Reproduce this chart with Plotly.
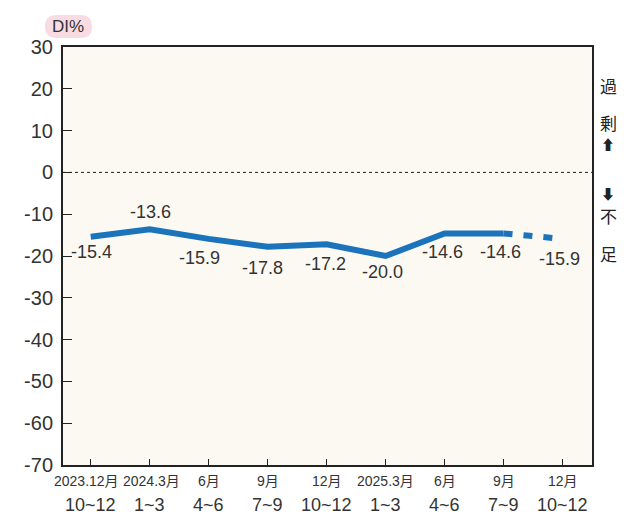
import plotly.graph_objects as go

periods_top = ["2023.12月", "2024.3月", "6月", "9月", "12月", "2025.3月", "6月", "9月", "12月"]
periods_bottom = ["10~12", "1~3", "4~6", "7~9", "10~12", "1~3", "4~6", "7~9", "10~12"]
di_values = [-15.4, -13.6, -15.9, -17.8, -17.2, -20.0, -14.6, -14.6, -15.9]
label_text = ["-15.4", "-13.6", "-15.9", "-17.8", "-17.2", "-20.0", "-14.6", "-14.6", "-15.9"]
y_ticks = [30, 20, 10, 0, -10, -20, -30, -40, -50, -60, -70]
y_ticktext = ["30", "20", "10", "0", "-10", "-20", "-30", "-40", "-50", "-60", "-70"]

# label placement style (pixel offsets)
label_dx = [1, 1, -9, -5, -1, -3, -2, -3, -3]
label_dy = [-15, 17, -19, -21, -20, -16, -19, -19, -20]
top_dx = [-4, 2, 0, 0, 0, 0, 0, 0, 0]

x = list(range(len(di_values)))
blue = "#1a73bb"
txt = "#333333"
font_main = "Liberation Sans, Arial, sans-serif"
font_cjk = "Liberation Sans, Noto Sans CJK JP, sans-serif"

# page body has an 8px margin; compensate so the plot lands where the reference has it
L, T, PW, PH = 55, 39, 529, 418
W, H = 622, 511

fig = go.Figure()
fig.add_trace(go.Scatter(x=x[:8], y=di_values[:8], mode="lines",
                         line=dict(color=blue, width=6), hoverinfo="skip"))
fig.add_trace(go.Scatter(x=x[7:], y=di_values[7:], mode="lines",
                         line=dict(color=blue, width=6, dash="9px,11px"), hoverinfo="skip"))

for i, (v, t) in enumerate(zip(di_values, label_text)):
    fig.add_annotation(x=i, y=v, text=t, showarrow=False,
                       font=dict(size=18, color=txt, family=font_main),
                       yshift=label_dy[i], xshift=label_dx[i])

for i, (a, b) in enumerate(zip(periods_top, periods_bottom)):
    fig.add_annotation(x=i, xref="x", yref="paper", y=0, yanchor="middle",
                       yshift=-16, xshift=top_dx[i], text=a, showarrow=False,
                       font=dict(size=14, color=txt, family=font_cjk))
    fig.add_annotation(x=i, xref="x", yref="paper", y=0, yanchor="middle",
                       yshift=-40, text=b, showarrow=False,
                       font=dict(size=18, color=txt, family=font_main))

fig.add_shape(type="line", xref="paper", x0=0, x1=1, y0=0, y1=0,
              line=dict(color="#222", width=1, dash="dot"))

# DI% badge (rounded pill)
def px_x(fx):
    return (fx - L) / PW

def px_y(fy):
    return (T + PH - fy) / PH

bx0, bx1, by0, by1 = px_x(37), px_x(84), px_y(7), px_y(30)
rx = 11.5 / PW
ym = (by0 + by1) / 2
path = (f"M {bx0+rx},{by0} L {bx1-rx},{by0} Q {bx1},{by0} {bx1},{ym} "
        f"Q {bx1},{by1} {bx1-rx},{by1} L {bx0+rx},{by1} Q {bx0},{by1} {bx0},{ym} "
        f"Q {bx0},{by0} {bx0+rx},{by0} Z")
fig.add_shape(type="path", xref="paper", yref="paper", path=path,
              fillcolor="#f9dce3", line=dict(width=0), layer="below")
fig.add_annotation(xref="paper", yref="paper", x=px_x(60), y=px_y(19),
                   xanchor="center", yanchor="middle",
                   text="DI%", showarrow=False,
                   font=dict(size=17, color=txt, family=font_main))

side = [("過", 85, 17), ("剰", 122, 17), ("⬆", 144, 14), ("⬇", 193, 14), ("不", 216, 17), ("足", 253, 17)]
for ch, py, fs in side:
    fig.add_annotation(xref="paper", yref="paper", x=1.0, xanchor="center",
                       xshift=16, y=px_y(py - 8), yanchor="middle",
                       text=ch, showarrow=False,
                       font=dict(size=fs, color="#222", family="Noto Sans CJK JP"))

fig.update_layout(
    width=W, height=H,
    margin=dict(l=L, r=W - L - PW, t=T, b=H - T - PH, autoexpand=False),
    paper_bgcolor="white", plot_bgcolor="#fcf9f3",
    showlegend=False,
    xaxis=dict(range=[-0.47, 8.5], tickmode="array", tickvals=x,
               showticklabels=False, automargin=False,
               ticks="inside", ticklen=6, tickcolor="#222", tickwidth=1,
               showline=True, linecolor="#222", linewidth=2, mirror=True,
               showgrid=False, zeroline=False),
    yaxis=dict(range=[-70, 30], tickmode="array", tickvals=y_ticks,
               ticktext=y_ticktext, automargin=False, ticklabelstandoff=4,
               ticks="inside", ticklen=9, tickcolor="#222", tickwidth=1,
               showline=True, linecolor="#222", linewidth=2, mirror=True,
               showgrid=False, zeroline=False,
               tickfont=dict(size=20, color=txt, family=font_main)),
)

fig.write_html("out.html")
